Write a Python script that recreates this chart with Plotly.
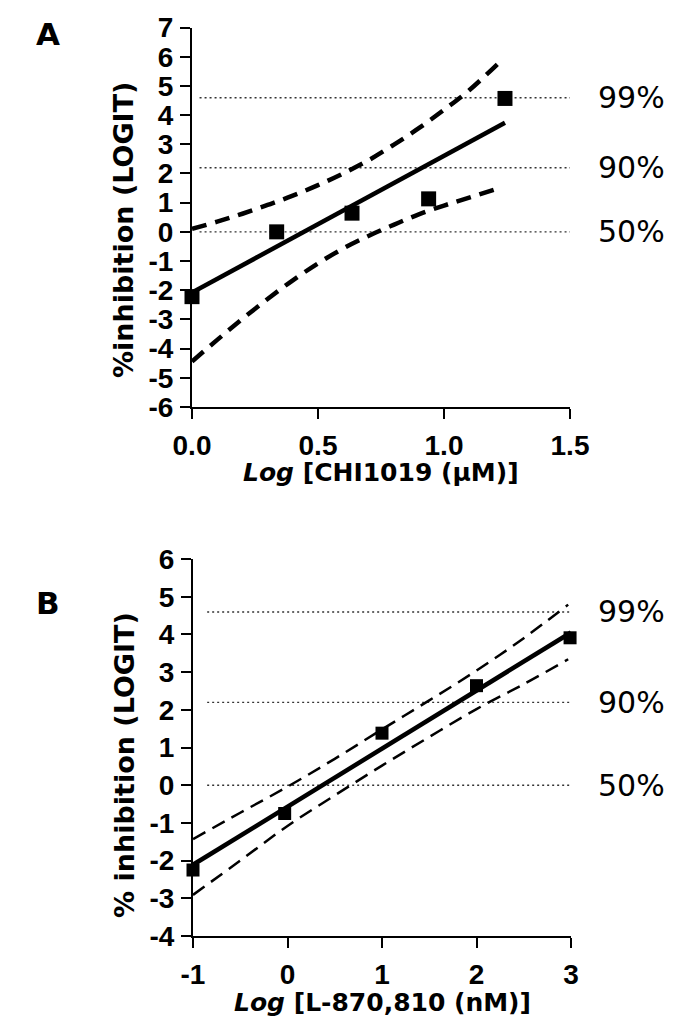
import plotly.graph_objects as go

# ---------------- Panel A data ----------------
a_x = [0.0, 0.336, 0.635, 0.939, 1.242]
a_y = [-2.22, 0.0, 0.64, 1.13, 4.57]
a_fit_x = [0.0, 1.242]
a_fit_y = [-2.08, 3.74]
a_band_x = [0.0, 0.1, 0.2, 0.3, 0.4, 0.5, 0.6, 0.7, 0.8, 0.9, 1.0, 1.1, 1.22]
a_upper = [0.1, 0.35, 0.62, 0.92, 1.24, 1.6, 2.0, 2.45, 2.98, 3.55, 4.18, 4.85, 5.81]
a_lower = [-4.44, -3.7, -2.98, -2.3, -1.66, -1.08, -0.57, -0.14, 0.24, 0.6, 0.9, 1.17, 1.5]
a_xticks = [0.0, 0.5, 1.0, 1.5]
a_xticklabels = ["0.0", "0.5", "1.0", "1.5"]
a_yticks = [-6, -5, -4, -3, -2, -1, 0, 1, 2, 3, 4, 5, 6, 7]
a_yticklabels = ["-6", "-5", "-4", "-3", "-2", "-1", "0", "1", "2", "3", "4", "5", "6", "7"]

# ---------------- Panel B data ----------------
b_x = [-1.0, -0.03, 1.0, 2.0, 2.99]
b_y = [-2.25, -0.75, 1.38, 2.64, 3.91]
b_fit_x = [-1.0, 3.0]
b_fit_y = [-2.11, 4.05]
b_band_x = [-1.0, -0.5, 0.0, 0.5, 1.0, 1.5, 2.0, 2.5, 2.97]
b_upper = [-1.43, -0.73, -0.04, 0.7, 1.48, 2.25, 3.04, 3.9, 4.79]
b_lower = [-2.91, -2.0, -1.08, -0.27, 0.52, 1.28, 2.02, 2.68, 3.34]
b_xticks = [-1, 0, 1, 2, 3]
b_xticklabels = ["-1", "0", "1", "2", "3"]
b_yticks = [-4, -3, -2, -1, 0, 1, 2, 3, 4, 5, 6]
b_yticklabels = ["-4", "-3", "-2", "-1", "0", "1", "2", "3", "4", "5", "6"]

# reference levels (logit of 50%, 90%, 99%)
ref_levels = [0.0, 2.197, 4.595]
ref_labels = ["50%", "90%", "99%"]
a_ref_span = [0.03, 1.5]
b_ref_span = [-0.85, 3.0]

# page has an 8px body margin; size the figure to fill the rest of the window
OFF = 8
W, H = 685 - OFF, 1027 - OFF
FONT = "DejaVu Sans"
TICKFONT = "Liberation Sans"

def PX(p):
    return (p - OFF) / W

def PY(p):
    return 1 - (p - OFF) / H

fig = go.Figure()

def add_panel(xa, ya, px, py, fx, fy, bx, bu, bl, span, lw_fit, lw_band, dash, msize):
    for lv in ref_levels:
        fig.add_trace(go.Scatter(x=span, y=[lv, lv], mode="lines", xaxis=xa, yaxis=ya,
                                 line=dict(color="#333333", width=1.4, dash="2px,3px"),
                                 showlegend=False, hoverinfo="skip"))
    fig.add_trace(go.Scatter(x=bx, y=bu, mode="lines", xaxis=xa, yaxis=ya,
                             line=dict(color="black", width=lw_band, dash=dash, shape="spline"),
                             showlegend=False))
    fig.add_trace(go.Scatter(x=bx, y=bl, mode="lines", xaxis=xa, yaxis=ya,
                             line=dict(color="black", width=lw_band, dash=dash, shape="spline"),
                             showlegend=False))
    fig.add_trace(go.Scatter(x=fx, y=fy, mode="lines", xaxis=xa, yaxis=ya,
                             line=dict(color="black", width=lw_fit), showlegend=False))
    fig.add_trace(go.Scatter(x=px, y=py, mode="markers", xaxis=xa, yaxis=ya, cliponaxis=False,
                             marker=dict(symbol="square", size=msize, color="black"),
                             showlegend=False))

add_panel("x", "y", a_x, a_y, a_fit_x, a_fit_y, a_band_x, a_upper, a_lower, a_ref_span,
          4.5, 4.5, "15px,9px", 15)
add_panel("x2", "y2", b_x, b_y, b_fit_x, b_fit_y, b_band_x, b_upper, b_lower, b_ref_span,
          4.5, 2.5, "14px,8px", 13)

tick_font = dict(family=TICKFONT, size=28, color="black", weight="bold")
axis_common = dict(showgrid=False, zeroline=False, showline=True, linecolor="black",
                   linewidth=2, ticks="outside", ticklen=10, tickwidth=2, tickcolor="black",
                   automargin=False)

fig.update_layout(
    template="none",
    width=W, height=H, margin=dict(l=0, r=0, t=0, b=0, autoexpand=False),
    paper_bgcolor="white", plot_bgcolor="white",
    xaxis=dict(domain=[PX(192), PX(570)], anchor="y", range=[0, 1.5], tickvals=a_xticks,
               ticktext=a_xticklabels, ticklabelstandoff=2, tickfont=tick_font, **axis_common),
    yaxis=dict(domain=[PY(407), PY(27.5)], anchor="x", range=[-6, 7],
               tickvals=a_yticks, ticktext=a_yticklabels, ticklabelstandoff=1,
               tickfont=tick_font, **axis_common),
    xaxis2=dict(domain=[PX(193), PX(571)], anchor="y2", range=[-1, 3], tickvals=b_xticks,
                ticktext=b_xticklabels, ticklabelstandoff=2, tickfont=tick_font, **axis_common),
    yaxis2=dict(domain=[PY(936), PY(559)], anchor="x2", range=[-4, 6],
                tickvals=b_yticks, ticktext=b_yticklabels, ticklabelstandoff=1,
                tickfont=tick_font, **axis_common),
)

ann = []
for yref in ["y", "y2"]:
    for lv, lab in zip(ref_levels, ref_labels):
        ann.append(dict(x=PX(596), xref="paper", y=lv, yref=yref, text=lab, showarrow=False,
                        xanchor="left", yanchor="middle",
                        font=dict(family=FONT, size=30, color="black")))

# panel letters
ann.append(dict(x=PX(48), y=PY(34), xref="paper", yref="paper", text="<b>A</b>",
                showarrow=False, xanchor="center", yanchor="middle",
                font=dict(family=FONT, size=31, color="black")))
ann.append(dict(x=PX(48), y=PY(603), xref="paper", yref="paper", text="<b>B</b>",
                showarrow=False, xanchor="center", yanchor="middle",
                font=dict(family=FONT, size=31, color="black")))

# axis titles
ann.append(dict(x=PX(381), y=PY(472), xref="paper", yref="paper",
                text="<b><i>Log</i> [CHI1019 (μM)]</b>", showarrow=False,
                xanchor="center", yanchor="middle", font=dict(family=FONT, size=25, color="black")))
ann.append(dict(x=PX(382), y=PY(1002), xref="paper", yref="paper",
                text="<b><i>Log</i> [L-870,810 (nM)]</b>", showarrow=False,
                xanchor="center", yanchor="middle", font=dict(family=FONT, size=25, color="black")))
ann.append(dict(x=PX(124), y=PY(230), xref="paper", yref="paper",
                text="<b>%inhibition (LOGIT)</b>", showarrow=False, textangle=-90,
                xanchor="center", yanchor="middle", font=dict(family=FONT, size=27, color="black")))
ann.append(dict(x=PX(124), y=PY(765), xref="paper", yref="paper",
                text="<b>% inhibition (LOGIT)</b>", showarrow=False, textangle=-90,
                xanchor="center", yanchor="middle", font=dict(family=FONT, size=27, color="black")))

fig.update_layout(annotations=ann)
fig.write_html("out.html")
